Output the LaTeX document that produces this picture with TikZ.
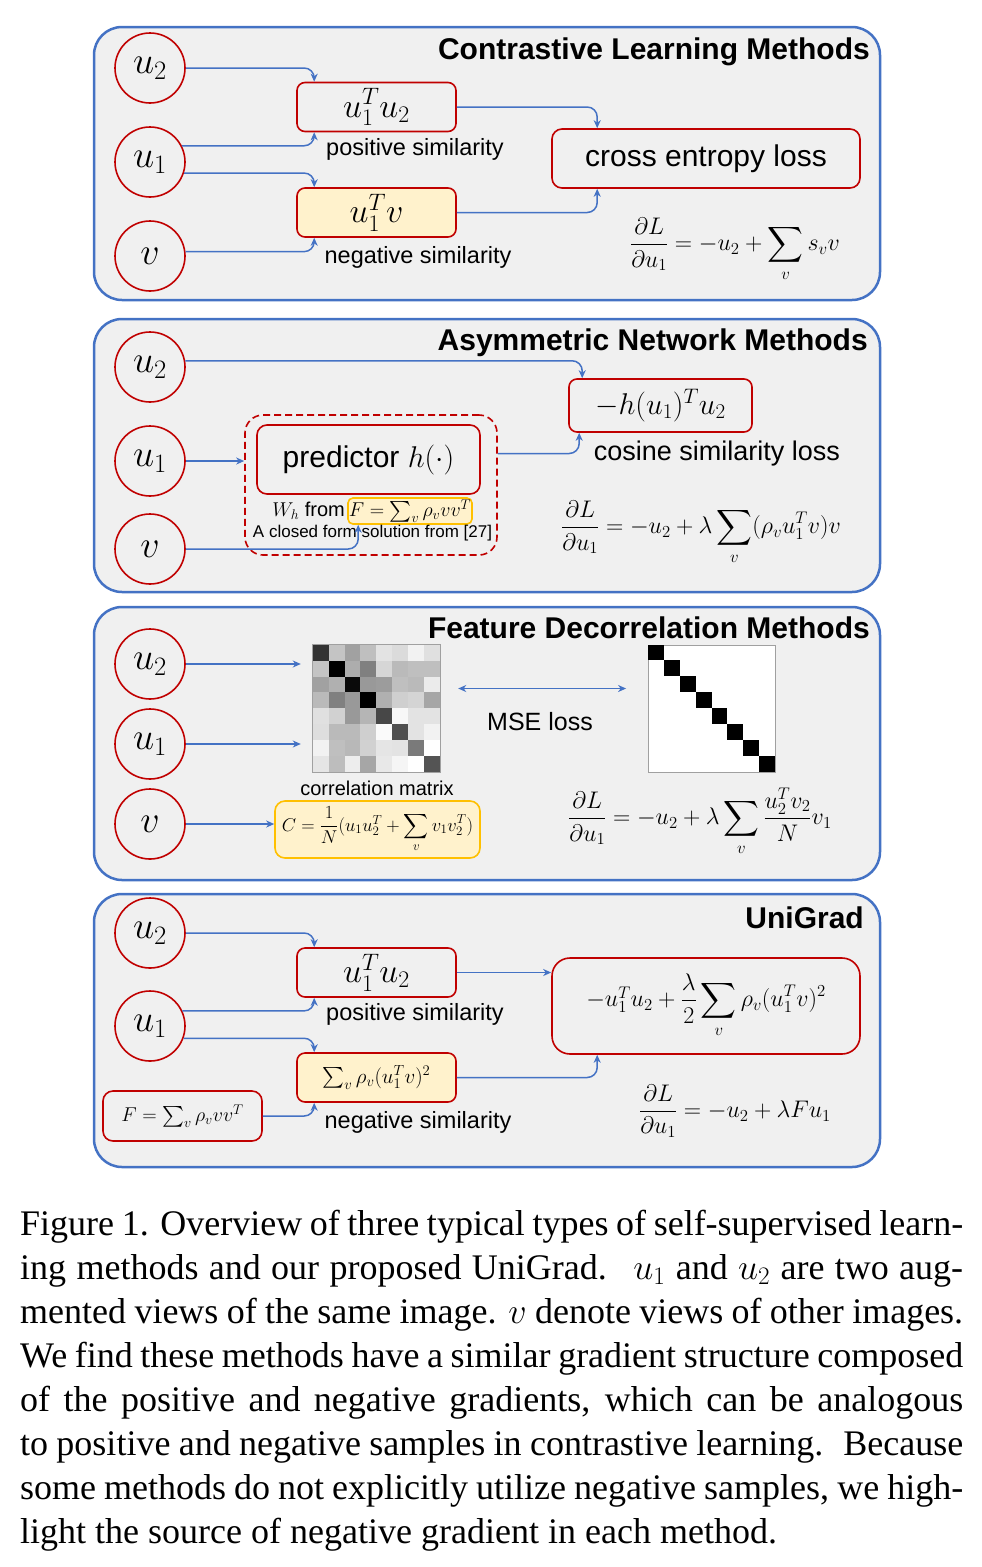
\RequirePackage{fix-cm}
\documentclass[tikz,border=0pt]{standalone}
\usepackage{amsmath}
\usepackage[no-math]{fontspec}
\setmainfont{Liberation Sans}
\newfontfamily\capfont{Liberation Serif}
\usetikzlibrary{arrows.meta,calc}
\newcommand\FS[1]{\fontsize{#1}{#1}\selectfont}
\definecolor{cred}{HTML}{C00000}
\definecolor{cblue}{HTML}{4472C4}
\definecolor{cyel}{HTML}{FFF2CC}
\definecolor{corange}{HTML}{FFC000}
\definecolor{cbg}{HTML}{F0F0F0}
\definecolor{cgrid}{HTML}{A0A0A0}
\begin{document}
\begin{tikzpicture}[x=1pt,y=-1pt,
  panel/.style={draw=cblue, line width=2.5pt, fill=cbg, rounded corners=28pt},
  circ/.style={circle, draw=cred, line width=1.6pt, minimum size=70pt, inner sep=0pt, font=\FS{38}},
  rbox/.style={draw=cred, line width=1.6pt, rounded corners=8pt, inner sep=0pt},
  ybox/.style={rbox, fill=cyel},
  obox/.style={draw=corange, line width=1.6pt, fill=cyel, inner sep=0pt},
  arr/.style={draw=cblue, line width=1.5pt, -{Stealth[length=8pt,width=7pt,inset=2.5pt]}, rounded corners=10pt},
  lbl/.style={font=\FS{23.5}, inner sep=0pt},
  ttl/.style={font=\bfseries\FS{30}, anchor=base east, inner sep=0pt},
  grad/.style={font=\FS{24}, inner sep=0pt}]
\useasboundingbox (0,0) rectangle (982,1567);
% panels
\draw[panel] (94,27) rectangle (880,300);
\draw[panel] (94,319) rectangle (880,592);
\draw[panel] (94,607) rectangle (880,880);
\draw[panel] (94,894) rectangle (880,1167);

% ---------- Panel 1 ----------
\node[ttl] (at) at (870,59) {Contrastive Learning Methods};
\node[circ] (a2) at (150,68) {$u_2$};
\node[circ] (a1) at (150,162) {$u_1$};
\node[circ] (av) at (150,256) {$v$};
\node[rbox, minimum width=159pt, minimum height=49pt, font=\FS{34}] (ap) at (376.5,107) {$u_1^T u_2$};
\node[ybox, minimum width=159pt, minimum height=49pt, font=\FS{34}] (an) at (376.5,212.5) {$u_1^T v$};
\node[lbl] (apl) at (415,149) {positive similarity};
\node[lbl] (anl) at (418,257) {negative similarity};
\node[rbox, rounded corners=10pt, minimum width=308pt, minimum height=59pt, font=\FS{30}] (ace) at (706,158.5) {cross entropy loss};
\node[grad] (ag) at (735,250) {$\displaystyle\frac{\partial L}{\partial u_1}=-u_2+\sum_v s_v v$};
\draw[arr] (a2.east) -| ($(ap.north west)+(18,0)$);
\draw[arr] (a1.27) -| ($(ap.south west)+(18,0)$);
\draw[arr] (a1.-18) -| ($(an.north west)+(18,0)$);
\draw[arr] (av.7) -| ($(an.south west)+(18,0)$);
\draw[arr] (ap.east) -| ($(ace.north west)+(46,0)$);
\draw[arr] (an.east) -| ($(ace.south west)+(46,0)$);

% ---------- Panel 2 ----------
\node[ttl] (bt) at (868,350) {Asymmetric Network Methods};
\node[circ] (b2) at (150,367) {$u_2$};
\node[circ] (b1) at (150,461) {$u_1$};
\node[circ] (bv) at (150,549) {$v$};
\node[rbox, minimum width=183pt, minimum height=53pt, font=\FS{30}] (bh) at (660.5,405.5) {$-h(u_1)^T u_2$};
\node[lbl, font=\FS{27}] (bcl) at (717,454) {cosine similarity loss};
\node[draw=cred, line width=1.6pt, dash pattern=on 7pt off 4pt, rounded corners=18pt, minimum width=252pt, minimum height=140pt] (bd) at (371,485) {};
\node[rbox, rounded corners=10pt, minimum width=223pt, minimum height=69pt, font=\FS{30}] (bp) at (368.5,459.5) {predictor $h(\cdot)$};
\node[obox, rounded corners=5pt, minimum width=124pt, minimum height=26pt, font=\FS{20}] (bf) at (410,511) {$F=\sum_v\rho_v v v^T$};
\node[inner sep=0pt, anchor=east, font=\FS{20}] (bw) at (345,511) {$W_h$ from};
\node[inner sep=0pt, font=\FS{17}] (bcf) at (372.5,533) {A closed form solution from [27]};
\node[grad] (bg) at (701,533) {$\displaystyle\frac{\partial L}{\partial u_1}=-u_2+\lambda\sum_v(\rho_v u_1^T v)v$};
\draw[arr] (b2.10) -| ($(bh.north west)+(14,0)$);
\draw[arr] (b1.east) -- (bd.west |- b1.east);
\draw[arr] ($(bd.east |- bp.east)+(0,-6)$) -| ($(bh.south west)+(11,0)$);
\draw[arr] (bv.east) -| ($(bf.south west)+(11,0)$);

% ---------- Panel 3 ----------
\node[ttl] (ct) at (870,638) {Feature Decorrelation Methods};
\node[circ] (c2) at (150,664) {$u_2$};
\node[circ] (c1) at (150,744) {$u_1$};
\node[circ] (cv) at (150,824) {$v$};
\node[minimum size=127pt, inner sep=0pt] (cm) at (376.5,708.5) {};
\foreach \row [count=\i] in {{20,77,63,75,89,86,95,88},{77,0,68,50,84,73,75,75},{63,69,4,60,61,75,73,92},{73,50,60,0,69,81,83,65},{88,82,60,71,28,97,89,89},{87,73,73,81,98,31,89,95},{95,75,72,82,90,89,48,100},{90,74,93,65,91,96,100,33}}{
  \foreach \val [count=\j] in \row {
    \fill[white!\val!black] ($(cm.north west)+({(\j-1)*15.875},{(\i-1)*15.875})$) rectangle ++(15.875,15.875);
  }
}
\draw[cgrid, line width=0.8pt] (cm.north west) rectangle (cm.south east);
\node[minimum size=127pt, inner sep=0pt, fill=white, draw=cgrid, line width=0.8pt] (ci) at (712,708.5) {};
\foreach \k in {0,...,7} {
  \fill[black] ($(ci.north west)+({\k*15.875},{\k*15.875})$) rectangle ++(15.875,15.875);
}
\coordinate (cl) at ($(cm.east)+(18,-20)$);
\coordinate (cr) at ($(ci.west)+(-22,-20)$);
\draw[arr, {Stealth[length=8pt,width=7pt,inset=2.5pt]}-{Stealth[length=8pt,width=7pt,inset=2.5pt]}] (cl) -- (cr);
\node[inner sep=0pt, font=\FS{25}] (cmse) at (540,722) {MSE loss};
\node[inner sep=0pt, font=\FS{20}] (ccm) at (377,788) {correlation matrix};
\node[obox, rounded corners=10pt, minimum width=205pt, minimum height=57pt, font=\FS{18.5}] (cc) at (377.5,829.5) {$C=\dfrac{1}{N}(u_1u_2^T+\displaystyle\sum_v v_1v_2^T)$};
\node[grad] (cg) at (700,822) {$\displaystyle\frac{\partial L}{\partial u_1}=-u_2+\lambda\sum_v\frac{u_2^Tv_2}{N}v_1$};
\draw[arr] (c2.east) -- ($(cm.west|-c2.east)+(-12,0)$);
\draw[arr] (c1.east) -- ($(cm.west|-c1.east)+(-12,0)$);
\draw[arr] (cv.east) -- (cc.west |- cv.east);

% ---------- Panel 4 ----------
\node[ttl] (dt) at (864,928) {UniGrad};
\node[circ] (d2) at (150,933) {$u_2$};
\node[circ] (d1) at (150,1026) {$u_1$};
\node[rbox, minimum width=159pt, minimum height=49pt, font=\FS{34}] (dp) at (376.5,972.5) {$u_1^T u_2$};
\node[ybox, minimum width=159pt, minimum height=49pt, font=\FS{21}] (dn) at (376.5,1077.5) {$\sum_v\rho_v(u_1^Tv)^2$};
\node[lbl] (dpl) at (415,1014) {positive similarity};
\node[lbl] (dnl) at (418,1122) {negative similarity};
\node[rbox, rounded corners=10pt, minimum width=159pt, minimum height=50pt, font=\FS{20}] (dF) at (182.5,1116) {$F=\sum_v\rho_v v v^T$};
\node[rbox, rounded corners=18pt, minimum width=308pt, minimum height=96pt, font=\FS{24}] (dl) at (706,1006) {$-u_1^Tu_2+\dfrac{\lambda}{2}\displaystyle\sum_v\rho_v(u_1^Tv)^2$};
\node[grad] (dg) at (735,1111) {$\displaystyle\frac{\partial L}{\partial u_1}=-u_2+\lambda F u_1$};
\draw[arr] (d2.east) -| ($(dp.north west)+(18,0)$);
\draw[arr] (d1.25) -| ($(dp.south west)+(18,0)$);
\draw[arr] (d1.-20) -| ($(dn.north west)+(18,0)$);
\draw[arr] (dF.east) -| ($(dn.south west)+(18,0)$);
\draw[arr] (dp.east) -- (dl.west |- dp.east);
\draw[arr] (dn.east) -| ($(dl.south west)+(46,0)$);

% ---------- Caption ----------
\node[anchor=base west, inner sep=0pt] (cap) at (20,1235) {\parbox[t]{943pt}{\capfont\fontsize{36}{44}\selectfont
\makebox[943pt][s]{Figure 1. Overview of three typical types of self-supervised learn-}\par
\makebox[943pt][s]{ing methods and our proposed UniGrad. \ $u_1$ and $u_2$ are two aug-}\par
\makebox[943pt][s]{mented views of the same image. $v$ denote views of other images.}\par
\makebox[943pt][s]{We find these methods have a similar gradient structure composed}\par
\makebox[943pt][s]{of the positive and negative gradients, which can be analogous}\par
\makebox[943pt][s]{to positive and negative samples in contrastive learning. \ Because}\par
\makebox[943pt][s]{some methods do not explicitly utilize negative samples, we high-}\par
\makebox[943pt][l]{light the source of negative gradient in each method.}}};
\end{tikzpicture}
\end{document}
